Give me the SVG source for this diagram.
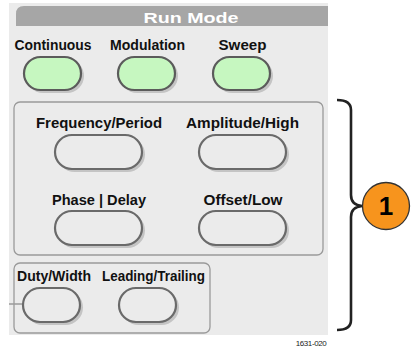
<svg xmlns="http://www.w3.org/2000/svg" width="411" height="349" viewBox="0 0 411 349">
<defs>
<style>
.lbl{font-family:"Liberation Sans",Arial,sans-serif;font-weight:bold;font-size:14.5px;fill:#111;text-anchor:middle}
.grp{fill:none;stroke:#9a9a9a;stroke-width:1.3}
.shadow{fill:#c4c4c4}
.btn-g{fill:#c6f7c0;stroke:#5b5b5b;stroke-width:2.2}
.btn{fill:#ebebeb;stroke:#6a6a6a;stroke-width:2.2}
</style>
</defs>
<rect x="0" y="0" width="411" height="349" fill="#ffffff"/>
<rect x="9" y="3" width="319" height="332" fill="#ebebeb"/>
<path d="M16 26 V14 Q16 6 24 6 H328 V26 Z" fill="#a6a6a6"/>
<text x="191" y="22.5" font-family="'Liberation Sans',Arial,sans-serif" font-weight="bold" font-size="15.5" fill="#ffffff" text-anchor="middle" textLength="95" lengthAdjust="spacingAndGlyphs">Run Mode</text>

<g id="continuous">
<text class="lbl" x="53" y="49.5" textLength="77" lengthAdjust="spacingAndGlyphs">Continuous</text>
<rect class="shadow" x="26" y="59" width="58" height="34" rx="17"/>
<rect class="btn-g" x="24" y="57" width="57" height="33" rx="16.5"/>
</g>
<g id="modulation">
<text class="lbl" x="147.5" y="49.5" textLength="75" lengthAdjust="spacingAndGlyphs">Modulation</text>
<rect class="shadow" x="120" y="59" width="58" height="34" rx="17"/>
<rect class="btn-g" x="118" y="57" width="57" height="33" rx="16.5"/>
</g>
<g id="sweep">
<text class="lbl" x="242.5" y="49.5" textLength="48" lengthAdjust="spacingAndGlyphs">Sweep</text>
<rect class="shadow" x="215" y="59" width="58" height="34" rx="17"/>
<rect class="btn-g" x="213" y="57" width="57" height="33" rx="16.5"/>
</g>

<rect class="grp" x="14" y="102" width="309" height="153" rx="6"/>
<rect class="grp" x="14" y="263" width="196" height="70" rx="6"/>
<line x1="9" y1="304" x2="23" y2="304" stroke="#9a9a9a" stroke-width="1.5"/>

<g id="frequency">
<text class="lbl" x="99" y="127.5" textLength="126" lengthAdjust="spacingAndGlyphs">Frequency/Period</text>
<rect class="shadow" x="57" y="137" width="88" height="35" rx="17.5"/>
<rect class="btn" x="55" y="135" width="87" height="34" rx="17"/>
</g>
<g id="amplitude">
<text class="lbl" x="242.5" y="127.5" textLength="113" lengthAdjust="spacingAndGlyphs">Amplitude/High</text>
<rect class="shadow" x="201" y="137" width="88" height="35" rx="17.5"/>
<rect class="btn" x="199" y="135" width="87" height="34" rx="17"/>
</g>
<g id="phase">
<text class="lbl" x="99" y="205" textLength="94" lengthAdjust="spacingAndGlyphs">Phase | Delay</text>
<rect class="shadow" x="57" y="213" width="88" height="35" rx="17.5"/>
<rect class="btn" x="55" y="211" width="87" height="34" rx="17"/>
</g>
<g id="offset">
<text class="lbl" x="243" y="205" textLength="79" lengthAdjust="spacingAndGlyphs">Offset/Low</text>
<rect class="shadow" x="201" y="213" width="88" height="35" rx="17.5"/>
<rect class="btn" x="199" y="211" width="87" height="34" rx="17"/>
</g>
<g id="duty">
<text class="lbl" x="54" y="281" textLength="74" lengthAdjust="spacingAndGlyphs">Duty/Width</text>
<rect class="shadow" x="25" y="290" width="58" height="35" rx="17.5"/>
<rect class="btn" x="23" y="288" width="57" height="34" rx="17"/>
</g>
<g id="leading">
<text class="lbl" x="153.5" y="281" textLength="103" lengthAdjust="spacingAndGlyphs">Leading/Trailing</text>
<rect class="shadow" x="121" y="290" width="58" height="35" rx="17.5"/>
<rect class="btn" x="119" y="288" width="57" height="34" rx="17"/>
</g>

<g id="connectors">
<path d="M337 100 Q351 100 351 110 V195 Q351 205 362 206 Q351 207 351 217 V320 Q351 330 337 330" fill="none" stroke="#222" stroke-width="2.6"/>
</g>
<g id="callout-1">
<circle cx="386" cy="206" r="23.5" fill="#f7941d" stroke="#333" stroke-width="1.3"/>
<text x="386" y="215" font-family="'Liberation Sans',Arial,sans-serif" font-weight="bold" font-size="26" fill="#000" text-anchor="middle">1</text>
</g>
<text x="311" y="346" font-family="'Liberation Sans',Arial,sans-serif" font-size="8" fill="#222" text-anchor="middle" letter-spacing="-0.4">1631-020</text>
</svg>
